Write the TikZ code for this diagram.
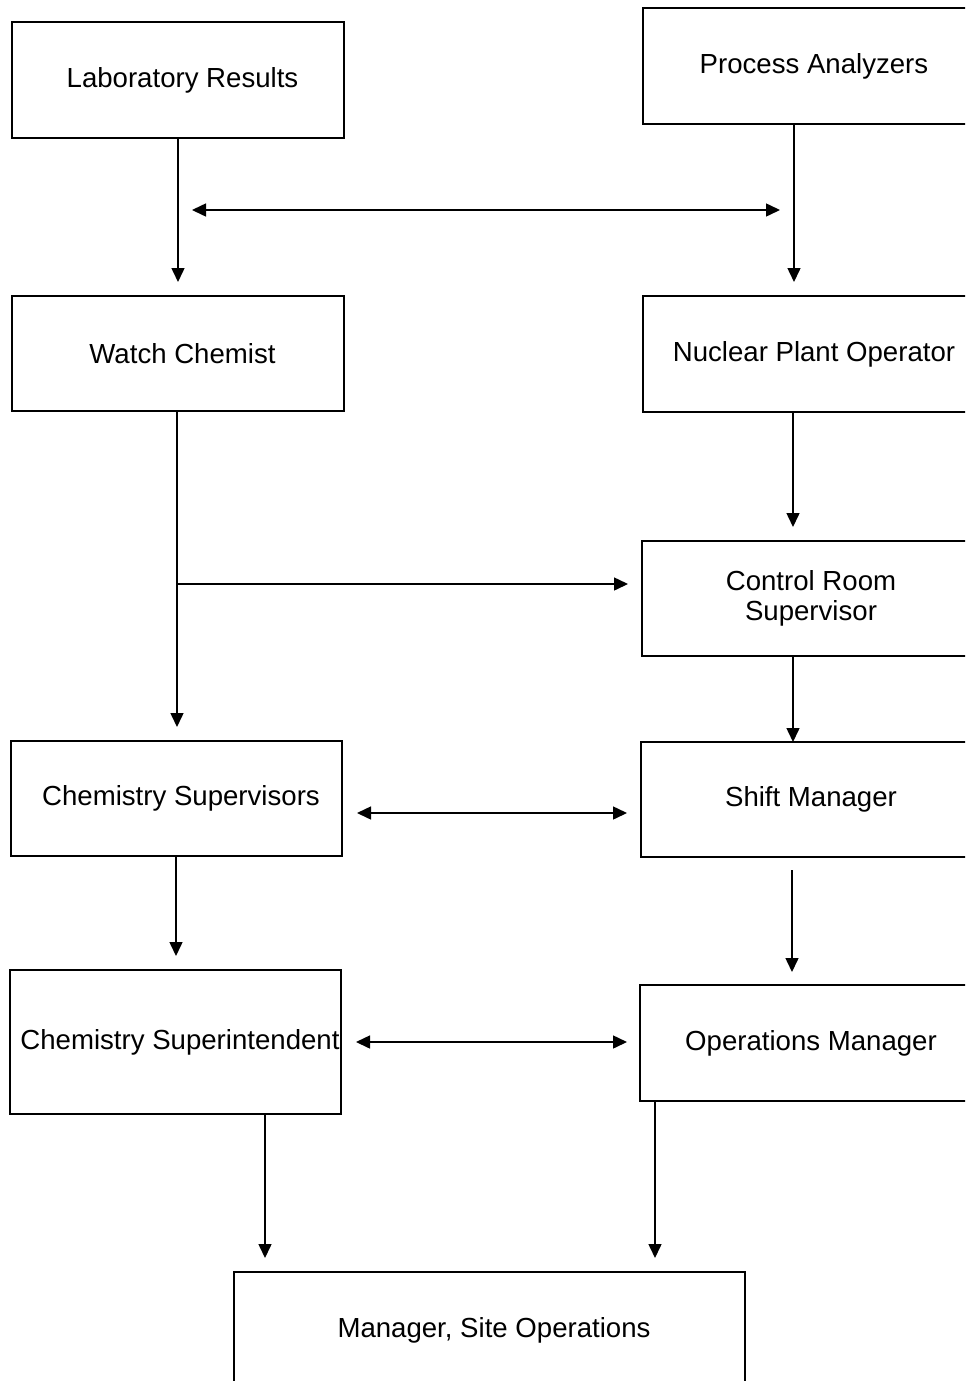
\documentclass[tikz,border=0pt]{standalone}
\usepackage{fontspec}
\setmainfont{Liberation Sans}
\usetikzlibrary{arrows.meta}
\begin{document}
\begin{tikzpicture}[x=0.5pt,y=-0.5pt,
  box/.style={draw, line width=0.75pt, inner sep=0pt, align=center, font=\fontsize{13.8}{15}\selectfont},
  lbox/.style={box, execute at begin node={\hspace*{4.5pt}}},
  arr/.style={line width=0.75pt, -{Triangle[length=7pt,width=6.5pt]}},
  darr/.style={line width=0.75pt, {Triangle[length=7pt,width=6.5pt]}-{Triangle[length=7pt,width=6.5pt]}}]
\useasboundingbox (0,0) rectangle (965,1381);
\clip (0,0) rectangle (965,1381);
% boxes
\node[lbox, minimum width=166pt, minimum height=58pt] (lab) at (178,80) {Laboratory Results};
\node[box, minimum width=171pt, minimum height=58pt] (pa) at (814,66) {Process Analyzers};
\node[lbox, minimum width=166pt, minimum height=57.5pt] (wc) at (178,353.5) {Watch Chemist};
\node[box, minimum width=171pt, minimum height=58pt] (npo) at (814,354) {Nuclear Plant Operator};
\node[box, minimum width=169pt, minimum height=57.5pt] (crs) at (811,598.5) {Control Room\\Supervisor};
\node[lbox, minimum width=165.5pt, minimum height=57.5pt] (cs) at (176.5,798.5) {Chemistry Supervisors};
\node[box, minimum width=170pt, minimum height=57.5pt] (sm) at (811,799.5) {Shift Manager};
\node[lbox, minimum width=165.5pt, minimum height=72pt] (csi) at (175.5,1042) {Chemistry Superintendent};
\node[box, minimum width=171pt, minimum height=58pt] (om) at (811,1043) {Operations Manager};
\node[lbox, minimum width=255.5pt, minimum height=58pt] (mso) at (489.5,1330) {Manager, Site Operations};
% coordinates
\coordinate (labtip) at (178,282);
\coordinate (pasrc) at (794,124);
\coordinate (patip) at (794,282);
\coordinate (hL) at (192,210);
\coordinate (hR) at (780,210);
\coordinate (npotip) at (793,527);
\coordinate (npo src) at (793,412);
\coordinate (wctip) at (177,727);
\coordinate (branch) at (177,584);
\coordinate (branchtip) at (628,584);
\coordinate (crssrc) at (793,656);
\coordinate (crstip) at (793,742);
\coordinate (d1L) at (357,813);
\coordinate (d1R) at (627,813);
\coordinate (smsrc) at (792,870);
\coordinate (smtip) at (792,972);
\coordinate (cstip) at (176,956);
\coordinate (d2L) at (356,1042);
\coordinate (d2R) at (627,1042);
\coordinate (csisrc) at (265,1114);
\coordinate (csitip) at (265,1258);
\coordinate (omsrc) at (655,1101);
\coordinate (omtip) at (655,1258);
% connectors
\draw[arr] (lab.south) -- (labtip);
\draw[arr] (pasrc) -- (patip);
\draw[darr] (hL) -- (hR);
\draw[arr] (npo src) -- (npotip);
\draw[arr] (wc.south -| wctip) -- (wctip);
\draw[arr] (branch) -- (branchtip);
\draw[arr] (crssrc) -- (crstip);
\draw[darr] (d1L) -- (d1R);
\draw[arr] (smsrc) -- (smtip);
\draw[arr] (cs.south -| cstip) -- (cstip);
\draw[darr] (d2L) -- (d2R);
\draw[arr] (csisrc) -- (csitip);
\draw[arr] (omsrc) -- (omtip);
\end{tikzpicture}
\end{document}
